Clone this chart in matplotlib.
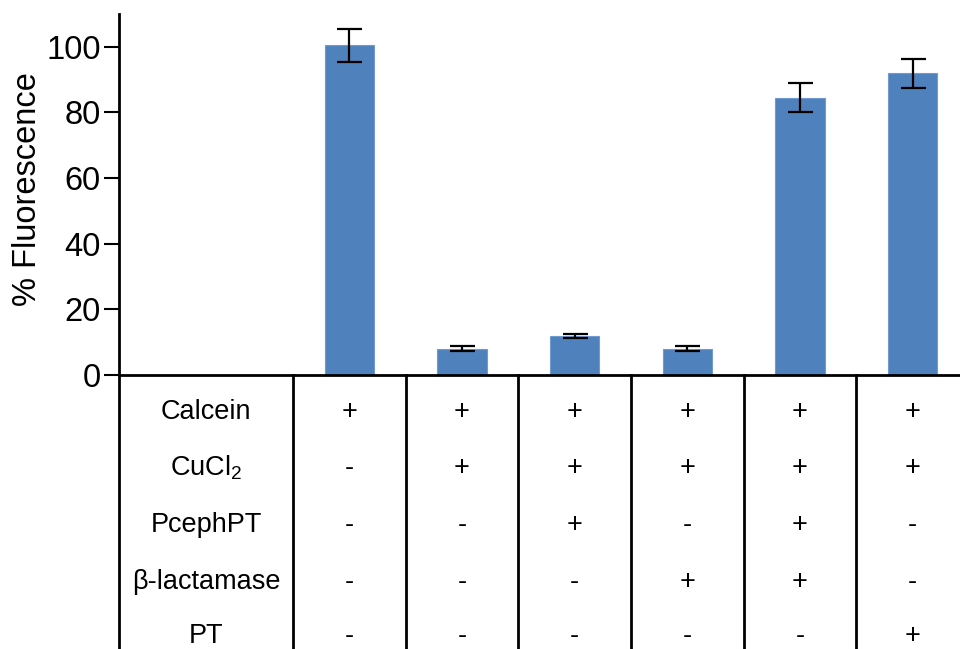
import matplotlib
matplotlib.use('Agg')
import matplotlib.pyplot as plt

# bar data (% fluorescence, mean and error)
values = [100.5, 8.0, 11.9, 8.0, 84.5, 92.0]
errors = [5.0, 0.7, 0.7, 0.7, 4.4, 4.4]

# table below the bars
row_labels = ['Calcein', r'CuCl$_\mathregular{2}$', 'PcephPT', 'β-lactamase', 'PT']
signs = [
    ['+', '+', '+', '+', '+', '+'],
    ['-', '+', '+', '+', '+', '+'],
    ['-', '-', '+', '-', '+', '-'],
    ['-', '-', '-', '+', '+', '-'],
    ['-', '-', '-', '-', '-', '+'],
]
yticks = [0, 20, 40, 60, 80, 100]

plt.rcParams['font.family'] = ['Liberation Sans', 'DejaVu Sans']
plt.rcParams['mathtext.fontset'] = 'custom'
plt.rcParams['mathtext.rm'] = 'Liberation Sans'

fig = plt.figure(figsize=(9.6, 6.49), dpi=100)
ax = fig.add_axes([119 / 960, 0, 1 - 119 / 960, 1 - 14 / 649])

n = len(values)
xs = [i + 0.5 for i in range(n)]
ax.bar(xs, values, width=0.44, color='#4F81BD', edgecolor='#6f9bd0', linewidth=0.8, zorder=2)
ax.errorbar(xs, values, yerr=errors, fmt='none', ecolor='black', elinewidth=1.6,
            capsize=9, capthick=1.6, zorder=3)

ax.set_xlim(-1.545, 5.92)
ax.set_ylim(-83.5, 110)
ax.set_yticks(yticks)
ax.tick_params(axis='y', labelsize=23.5, length=11, width=1.5, pad=2)
ax.set_xticks([])
for s in ['top', 'right', 'bottom']:
    ax.spines[s].set_visible(False)
ax.spines['left'].set_linewidth(2)
ax.axhline(0, color='black', lw=2, clip_on=False, zorder=4)

# vertical table separators
for b in range(n):
    ax.plot([b, b], [-83.5, 0], color='black', lw=2, clip_on=False, zorder=4)

row_y = [-11.3, -28.4, -45.7, -63.1, -79.4]
for r, lab in enumerate(row_labels):
    ax.text(-0.77, row_y[r], lab, ha='center', va='center', fontsize=19.5)
    for c in range(n):
        ax.text(xs[c], row_y[r], signs[r][c], ha='center', va='center', fontsize=19.5)

ax.set_ylabel('% Fluorescence', fontsize=23.5)
ax.yaxis.set_label_coords(-0.090, 0.724)

fig.savefig('out.png', dpi=100)
